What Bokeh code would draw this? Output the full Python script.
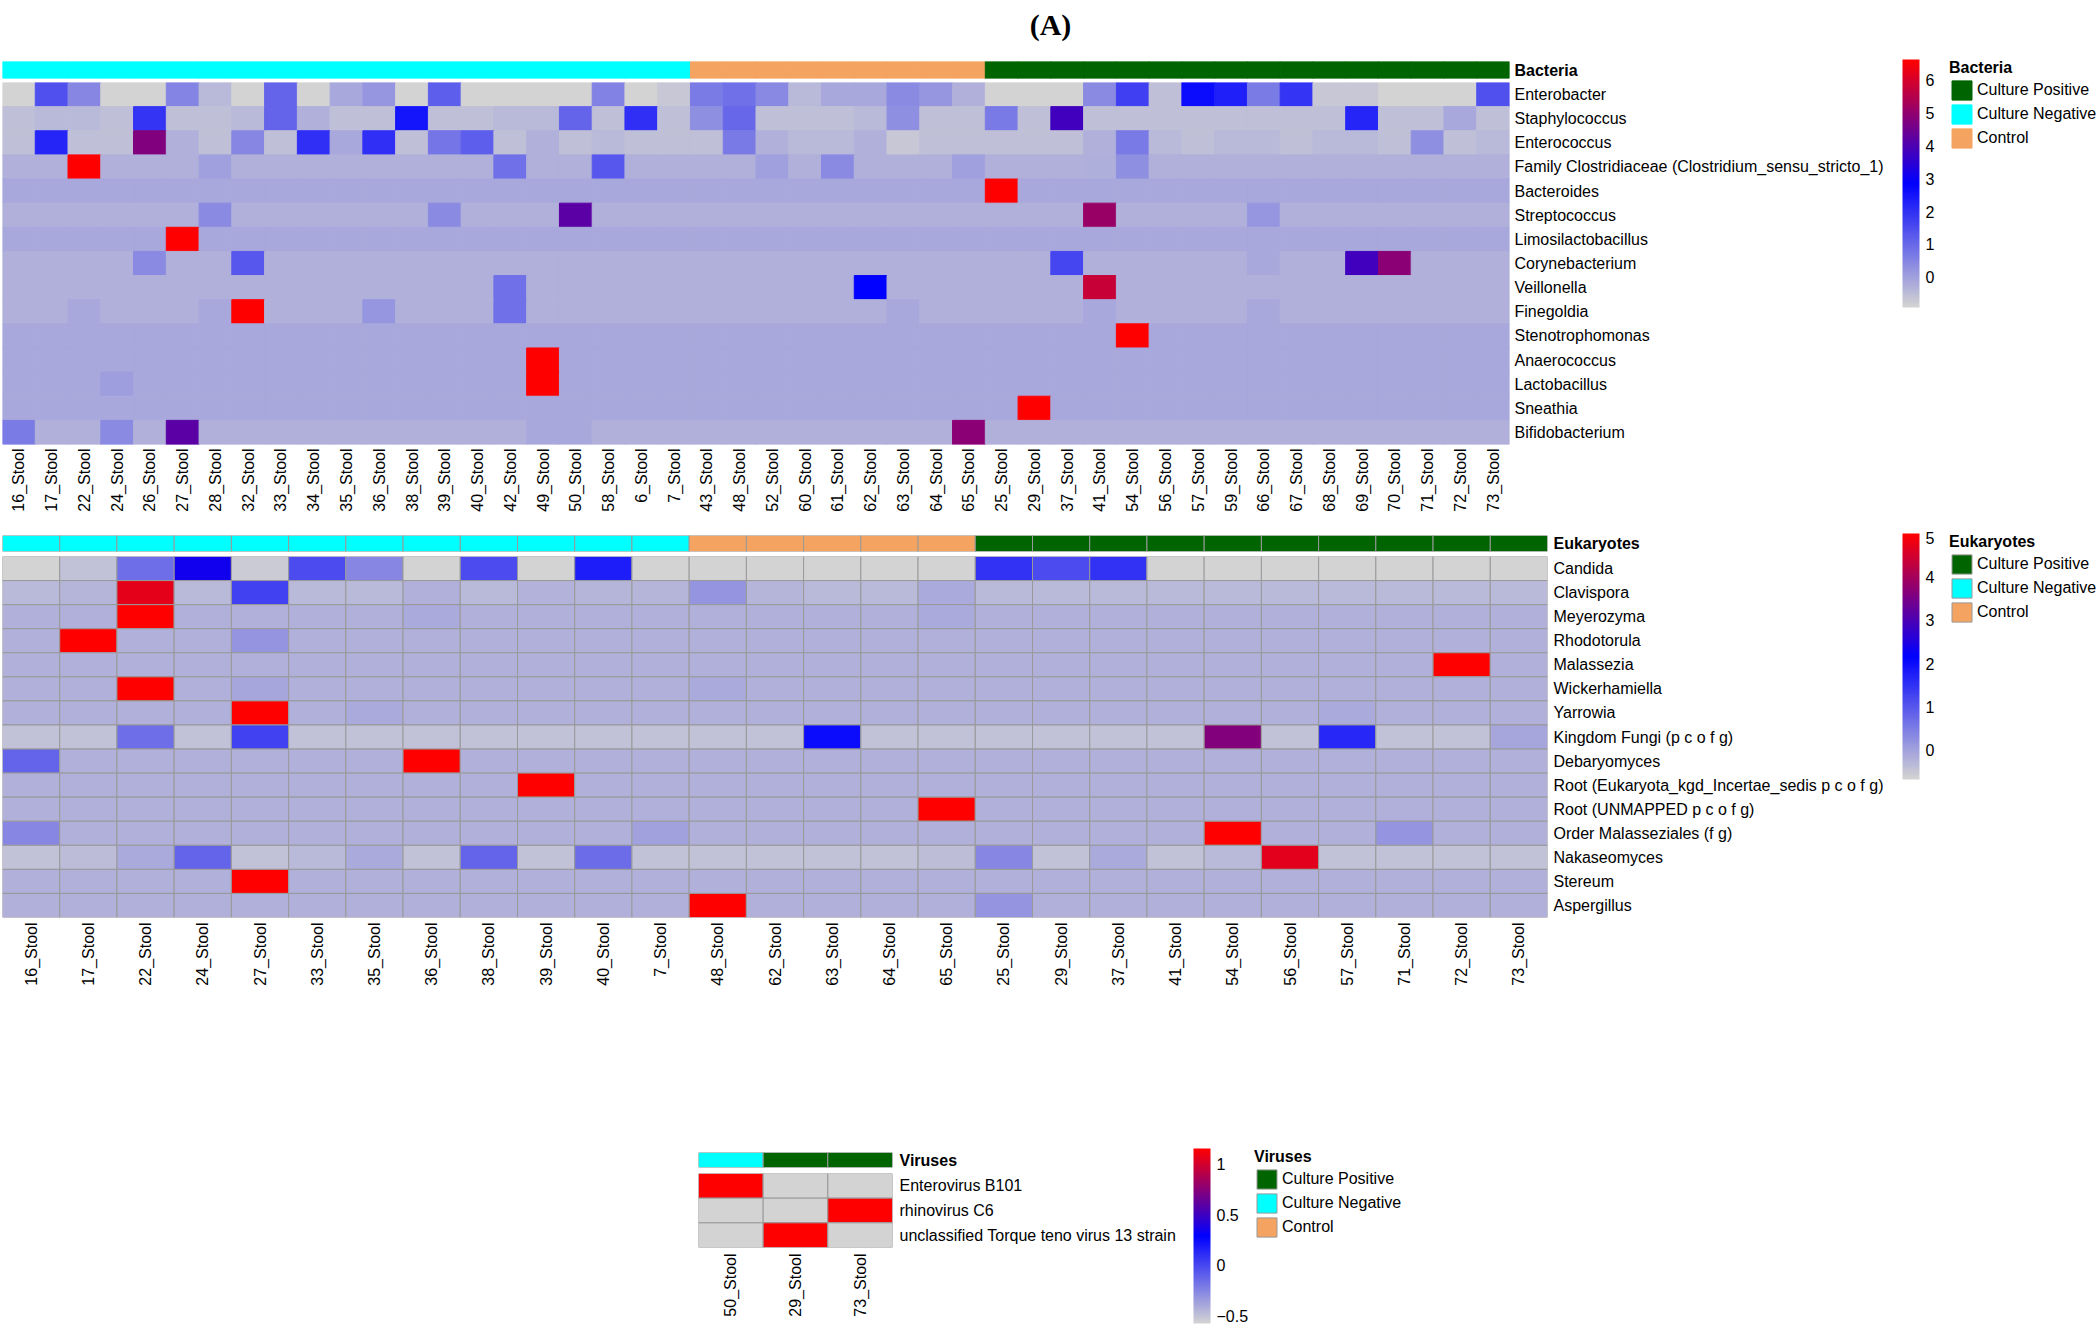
import numpy as np
from bokeh.plotting import figure
from bokeh.models import (FactorRange, Range1d, ColumnDataSource, LinearColorMapper, ColorBar,
                          FixedTicker, Legend, LegendItem, Spacer)
from bokeh.layouts import column, row
from bokeh.embed import file_html
from bokeh.resources import INLINE
from bokeh.core.validation import silence
from bokeh.core.validation.warnings import MISSING_RENDERERS

silence(MISSING_RENDERERS, True)

FONT = "Liberation Sans"
GROUP_NAMES = ["Culture Positive", "Culture Negative", "Control"]
GROUP_COLORS = {"Culture Positive": "#006400", "Culture Negative": "#00FFFF", "Control": "#F4A460"}

# ---------------- Bacteria ----------------
BAC_SAMPLES = ["16_Stool", "17_Stool", "22_Stool", "24_Stool", "26_Stool", "27_Stool", "28_Stool",
               "32_Stool", "33_Stool", "34_Stool", "35_Stool", "36_Stool", "38_Stool", "39_Stool",
               "40_Stool", "42_Stool", "49_Stool", "50_Stool", "58_Stool", "6_Stool", "7_Stool",
               "43_Stool", "48_Stool", "52_Stool", "60_Stool", "61_Stool", "62_Stool", "63_Stool",
               "64_Stool", "65_Stool",
               "25_Stool", "29_Stool", "37_Stool", "41_Stool", "54_Stool", "56_Stool", "57_Stool",
               "59_Stool", "66_Stool", "67_Stool", "68_Stool", "69_Stool", "70_Stool", "71_Stool",
               "72_Stool", "73_Stool"]
BAC_GROUPS = ["Culture Negative", "Culture Negative", "Culture Negative", "Culture Negative",
              "Culture Negative", "Culture Negative", "Culture Negative", "Culture Negative",
              "Culture Negative", "Culture Negative", "Culture Negative", "Culture Negative",
              "Culture Negative", "Culture Negative", "Culture Negative", "Culture Negative",
              "Culture Negative", "Culture Negative", "Culture Negative", "Culture Negative",
              "Culture Negative",
              "Control", "Control", "Control", "Control", "Control", "Control", "Control",
              "Control", "Control",
              "Culture Positive", "Culture Positive", "Culture Positive", "Culture Positive",
              "Culture Positive", "Culture Positive", "Culture Positive", "Culture Positive",
              "Culture Positive", "Culture Positive", "Culture Positive", "Culture Positive",
              "Culture Positive", "Culture Positive", "Culture Positive", "Culture Positive"]
BAC_TAXA = ["Enterobacter", "Staphylococcus", "Enterococcus",
            "Family Clostridiaceae (Clostridium_sensu_stricto_1)", "Bacteroides", "Streptococcus",
            "Limosilactobacillus", "Corynebacterium", "Veillonella", "Finegoldia",
            "Stenotrophomonas", "Anaerococcus", "Lactobacillus", "Sneathia", "Bifidobacterium"]

BAC_ENTEROBACTER = [-0.92, 1.43, 0.44, -0.92, -0.92, 0.5, -0.42, -0.92, 1.08, -0.92, -0.15, 0.19, -0.92, 1.2, -0.92, -0.92, -0.92, -0.92, 0.55, -0.92, -0.7,
                    0.67, 0.87, 0.41, -0.42, -0.15, -0.15, 0.38, 0.19, -0.3,
                    -0.92, -0.92, -0.92, 0.38, 1.72, -0.55, 2.65, 2.3, 0.65, 1.94, -0.7, -0.7, -0.92, -0.92, -0.92, 1.43]
BAC_STAPHYLOCOCCUS = [-0.55, -0.42, -0.42, -0.55, 1.94, -0.55, -0.55, -0.42, 1.08, -0.3, -0.55, -0.55, 2.5, -0.55, -0.55, -0.42, -0.42, 1.08, -0.55, 2.0, -0.55,
                      0.3, 1.0, -0.55, -0.55, -0.55, -0.42, 0.3, -0.55, -0.55,
                      0.7, -0.55, 3.8, -0.55, -0.55, -0.55, -0.55, -0.55, -0.55, -0.55, -0.55, 2.2, -0.55, -0.55, -0.15, -0.55]
BAC_ENTEROCOCCUS = [-0.55, 2.2, -0.55, -0.55, 4.75, -0.3, -0.55, 0.44, -0.55, 2.0, -0.15, 2.0, -0.55, 0.78, 1.2, -0.55, -0.3, -0.55, -0.42, -0.55, -0.55,
                    -0.55, 0.7, -0.3, -0.42, -0.42, -0.3, -0.7, -0.55, -0.55,
                    -0.55, -0.55, -0.55, -0.3, 0.7, -0.42, -0.55, -0.42, -0.42, -0.55, -0.42, -0.42, -0.55, 0.3, -0.55, -0.42]
BAC_CLOSTRIDIACEAE = [-0.3, -0.3, 6.63, -0.3, -0.3, -0.3, 0.0, -0.3, -0.3, -0.3, -0.3, -0.3, -0.3, -0.3, -0.3, 0.87, -0.3, -0.3, 1.3, -0.3, -0.3,
                      -0.3, -0.3, 0.0, -0.3, 0.38, -0.3, -0.3, -0.3, 0.0,
                      -0.3, -0.3, -0.3, -0.25, 0.3, -0.3, -0.3, -0.3, -0.3, -0.3, -0.3, -0.3, -0.3, -0.3, -0.3, -0.3]
BAC_BACTEROIDES = [-0.15, -0.15, -0.15, -0.15, -0.15, -0.15, -0.15, -0.15, -0.15, -0.15, -0.15, -0.15, -0.15, -0.15, -0.15, -0.15, -0.15, -0.15, -0.15, -0.15, -0.15,
                   -0.15, -0.15, -0.15, -0.15, -0.15, -0.15, -0.15, -0.15, -0.15,
                   6.63, -0.15, -0.15, -0.15, -0.15, -0.15, -0.15, -0.15, -0.15, -0.15, -0.15, -0.15, -0.15, -0.15, -0.15, -0.15]
BAC_STREPTOCOCCUS = [-0.3, -0.3, -0.3, -0.3, -0.3, -0.3, 0.38, -0.3, -0.3, -0.3, -0.3, -0.3, -0.3, 0.38, -0.3, -0.3, -0.3, 4.2, -0.3, -0.3, -0.3,
                     -0.3, -0.3, -0.3, -0.3, -0.3, -0.3, -0.3, -0.3, -0.3,
                     -0.3, -0.3, -0.3, 5.1, -0.3, -0.3, -0.3, -0.3, 0.2, -0.3, -0.3, -0.3, -0.3, -0.3, -0.3, -0.3]
BAC_LIMOSILACTOBACILLUS = [-0.15, -0.15, -0.15, -0.15, -0.15, 6.63, -0.15, -0.15, -0.15, -0.15, -0.15, -0.15, -0.15, -0.15, -0.15, -0.15, -0.15, -0.15, -0.15, -0.15, -0.15,
                           -0.15, -0.15, -0.15, -0.15, -0.15, -0.15, -0.15, -0.15, -0.15,
                           -0.15, -0.15, -0.15, -0.15, -0.15, -0.15, -0.15, -0.15, -0.15, -0.15, -0.15, -0.15, -0.15, -0.15, -0.15, -0.15]
BAC_CORYNEBACTERIUM = [-0.3, -0.3, -0.3, -0.3, 0.38, -0.3, -0.3, 1.3, -0.3, -0.3, -0.3, -0.3, -0.3, -0.3, -0.3, -0.3, -0.3, -0.3, -0.3, -0.3, -0.3,
                       -0.3, -0.3, -0.3, -0.3, -0.3, -0.3, -0.3, -0.3, -0.3,
                       -0.3, -0.3, 1.6, -0.3, -0.3, -0.3, -0.3, -0.3, -0.15, -0.3, -0.3, 3.8, 4.9, -0.3, -0.3, -0.3]
BAC_VEILLONELLA = [-0.3, -0.3, -0.3, -0.3, -0.3, -0.3, -0.3, -0.3, -0.3, -0.3, -0.3, -0.3, -0.3, -0.3, -0.3, 0.87, -0.3, -0.3, -0.3, -0.3, -0.3,
                   -0.3, -0.3, -0.3, -0.3, -0.3, 2.85, -0.3, -0.3, -0.3,
                   -0.3, -0.3, -0.3, 5.8, -0.3, -0.3, -0.3, -0.3, -0.3, -0.3, -0.3, -0.3, -0.3, -0.3, -0.3, -0.3]
BAC_FINEGOLDIA = [-0.3, -0.3, -0.15, -0.3, -0.3, -0.3, -0.15, 6.63, -0.3, -0.3, -0.3, 0.2, -0.3, -0.3, -0.3, 0.87, -0.3, -0.3, -0.3, -0.3, -0.3,
                  -0.3, -0.3, -0.3, -0.3, -0.3, -0.3, -0.15, -0.3, -0.3,
                  -0.3, -0.3, -0.3, -0.15, -0.3, -0.3, -0.3, -0.3, -0.15, -0.3, -0.3, -0.3, -0.3, -0.3, -0.3, -0.3]
BAC_STENOTROPHOMONAS = [-0.15, -0.15, -0.15, -0.15, -0.15, -0.15, -0.15, -0.15, -0.15, -0.15, -0.15, -0.15, -0.15, -0.15, -0.15, -0.15, -0.15, -0.15, -0.15, -0.15, -0.15,
                        -0.15, -0.15, -0.15, -0.15, -0.15, -0.15, -0.15, -0.15, -0.15,
                        -0.15, -0.15, -0.15, -0.15, 6.63, -0.15, -0.15, -0.15, -0.15, -0.15, -0.15, -0.15, -0.15, -0.15, -0.15, -0.15]
BAC_ANAEROCOCCUS = [-0.15, -0.15, -0.15, -0.15, -0.15, -0.15, -0.15, -0.15, -0.15, -0.15, -0.15, -0.15, -0.15, -0.15, -0.15, -0.15, 6.63, -0.15, -0.15, -0.15, -0.15,
                    -0.15, -0.15, -0.15, -0.15, -0.15, -0.15, -0.15, -0.15, -0.15,
                    -0.15, -0.15, -0.15, -0.15, -0.15, -0.15, -0.15, -0.15, -0.15, -0.15, -0.15, -0.15, -0.15, -0.15, -0.15, -0.15]
BAC_LACTOBACILLUS = [-0.15, -0.15, -0.15, 0.05, -0.15, -0.15, -0.15, -0.15, -0.15, -0.15, -0.15, -0.15, -0.15, -0.15, -0.15, -0.15, 6.63, -0.15, -0.15, -0.15, -0.15,
                     -0.15, -0.15, -0.15, -0.15, -0.15, -0.15, -0.15, -0.15, -0.15,
                     -0.15, -0.15, -0.15, -0.15, -0.15, -0.15, -0.15, -0.15, -0.15, -0.15, -0.15, -0.15, -0.15, -0.15, -0.15, -0.15]
BAC_SNEATHIA = [-0.15, -0.15, -0.15, -0.15, -0.15, -0.15, -0.15, -0.15, -0.15, -0.15, -0.15, -0.15, -0.15, -0.15, -0.15, -0.15, -0.15, -0.15, -0.15, -0.15, -0.15,
                -0.15, -0.15, -0.15, -0.15, -0.15, -0.15, -0.15, -0.15, -0.15,
                -0.15, 6.63, -0.15, -0.15, -0.15, -0.15, -0.15, -0.15, -0.15, -0.15, -0.15, -0.15, -0.15, -0.15, -0.15, -0.15]
BAC_BIFIDOBACTERIUM = [0.65, -0.3, -0.3, 0.38, -0.3, 4.2, -0.3, -0.3, -0.3, -0.3, -0.3, -0.3, -0.3, -0.3, -0.3, -0.3, -0.15, -0.15, -0.3, -0.3, -0.3,
                       -0.3, -0.3, -0.3, -0.3, -0.3, -0.3, -0.3, -0.3, 4.9,
                       -0.3, -0.3, -0.3, -0.3, -0.3, -0.3, -0.3, -0.3, -0.3, -0.3, -0.3, -0.3, -0.3, -0.3, -0.3, -0.3]
BAC_ROWS = [BAC_ENTEROBACTER, BAC_STAPHYLOCOCCUS, BAC_ENTEROCOCCUS, BAC_CLOSTRIDIACEAE, BAC_BACTEROIDES,
            BAC_STREPTOCOCCUS, BAC_LIMOSILACTOBACILLUS, BAC_CORYNEBACTERIUM, BAC_VEILLONELLA, BAC_FINEGOLDIA,
            BAC_STENOTROPHOMONAS, BAC_ANAEROCOCCUS, BAC_LACTOBACILLUS, BAC_SNEATHIA, BAC_BIFIDOBACTERIUM]
BAC_TICKS = [0, 1, 2, 3, 4, 5, 6]

# ---------------- Eukaryotes ----------------
EUK_SAMPLES = ["16_Stool", "17_Stool", "22_Stool", "24_Stool", "27_Stool", "33_Stool", "35_Stool",
               "36_Stool", "38_Stool", "39_Stool", "40_Stool", "7_Stool",
               "48_Stool", "62_Stool", "63_Stool", "64_Stool", "65_Stool",
               "25_Stool", "29_Stool", "37_Stool", "41_Stool", "54_Stool", "56_Stool", "57_Stool",
               "71_Stool", "72_Stool", "73_Stool"]
EUK_GROUPS = ["Culture Negative", "Culture Negative", "Culture Negative", "Culture Negative",
              "Culture Negative", "Culture Negative", "Culture Negative", "Culture Negative",
              "Culture Negative", "Culture Negative", "Culture Negative", "Culture Negative",
              "Control", "Control", "Control", "Control", "Control",
              "Culture Positive", "Culture Positive", "Culture Positive", "Culture Positive",
              "Culture Positive", "Culture Positive", "Culture Positive", "Culture Positive",
              "Culture Positive", "Culture Positive"]
EUK_TAXA = ["Candida", "Clavispora", "Meyerozyma", "Rhodotorula", "Malassezia", "Wickerhamiella",
            "Yarrowia", "Kingdom Fungi (p c o f g)", "Debaryomyces",
            "Root (Eukaryota_kgd_Incertae_sedis p c o f g)", "Root (UNMAPPED p c o f g)",
            "Order Malasseziales (f g)", "Nakaseomyces", "Stereum", "Aspergillus"]
EUK_CANDIDA = [-0.67, -0.41, 0.7, 2.35, -0.55, 1.16, 0.37, -0.67, 1.16, -0.67, 1.78, -0.67,
               -0.67, -0.67, -0.67, -0.67, -0.67,
               1.48, 1.16, 1.5, -0.67, -0.67, -0.67, -0.67, -0.67, -0.67, -0.67]
EUK_CLAVISPORA = [-0.3, -0.27, 4.7, -0.3, 1.3, -0.3, -0.3, -0.2, -0.3, -0.22, -0.27, -0.27,
                  0.19, -0.25, -0.3, -0.3, -0.1,
                  -0.3, -0.3, -0.3, -0.3, -0.3, -0.3, -0.3, -0.3, -0.3, -0.3]
EUK_MEYEROZYMA = [-0.19, -0.19, 5.0, -0.19, -0.19, -0.19, -0.19, -0.1, -0.19, -0.19, -0.19, -0.19,
                  -0.19, -0.19, -0.19, -0.19, -0.1,
                  -0.19, -0.19, -0.19, -0.19, -0.19, -0.19, -0.19, -0.19, -0.19, -0.19]
EUK_RHODOTORULA = [-0.19, 5.0, -0.19, -0.19, 0.19, -0.19, -0.19, -0.19, -0.19, -0.19, -0.19, -0.19,
                   -0.19, -0.19, -0.19, -0.19, -0.19,
                   -0.19, -0.19, -0.19, -0.19, -0.19, -0.19, -0.19, -0.19, -0.19, -0.19]
EUK_MALASSEZIA = [-0.19, -0.19, -0.19, -0.19, -0.19, -0.19, -0.19, -0.19, -0.19, -0.19, -0.19, -0.19,
                  -0.19, -0.19, -0.19, -0.19, -0.19,
                  -0.19, -0.19, -0.19, -0.19, -0.19, -0.19, -0.19, -0.19, 5.0, -0.19]
EUK_WICKERHAMIELLA = [-0.19, -0.19, 5.0, -0.19, -0.05, -0.19, -0.19, -0.19, -0.19, -0.19, -0.19, -0.19,
                      -0.1, -0.19, -0.19, -0.19, -0.19,
                      -0.19, -0.19, -0.19, -0.19, -0.19, -0.19, -0.19, -0.19, -0.19, -0.19]
EUK_YARROWIA = [-0.19, -0.19, -0.19, -0.19, 5.0, -0.19, -0.1, -0.19, -0.19, -0.19, -0.19, -0.19,
                -0.19, -0.19, -0.19, -0.19, -0.19,
                -0.19, -0.19, -0.19, -0.19, -0.19, -0.19, -0.1, -0.19, -0.19, -0.19]
EUK_KINGDOM_FUNGI = [-0.41, -0.41, 0.7, -0.41, 1.3, -0.41, -0.41, -0.41, -0.41, -0.41, -0.41, -0.41,
                     -0.41, -0.41, 2.0, -0.41, -0.41,
                     -0.41, -0.41, -0.41, -0.41, 3.62, -0.41, 1.65, -0.41, -0.41, -0.05]
EUK_DEBARYOMYCES = [0.83, -0.19, -0.19, -0.19, -0.19, -0.19, -0.19, 5.0, -0.19, -0.19, -0.19, -0.19,
                    -0.19, -0.19, -0.19, -0.19, -0.19,
                    -0.19, -0.19, -0.19, -0.19, -0.19, -0.19, -0.19, -0.19, -0.19, -0.19]
EUK_ROOT_INCERTAE = [-0.19, -0.19, -0.19, -0.19, -0.19, -0.19, -0.19, -0.19, -0.19, 5.0, -0.19, -0.19,
                     -0.19, -0.19, -0.19, -0.19, -0.19,
                     -0.19, -0.19, -0.19, -0.19, -0.19, -0.19, -0.19, -0.19, -0.19, -0.19]
EUK_ROOT_UNMAPPED = [-0.19, -0.19, -0.19, -0.19, -0.19, -0.19, -0.19, -0.19, -0.19, -0.19, -0.19, -0.19,
                     -0.19, -0.19, -0.19, -0.19, 5.0,
                     -0.19, -0.19, -0.19, -0.19, -0.19, -0.19, -0.19, -0.19, -0.19, -0.19]
EUK_MALASSEZIALES = [0.35, -0.19, -0.19, -0.19, -0.19, -0.19, -0.19, -0.19, -0.19, -0.19, -0.19, 0.0,
                     -0.19, -0.19, -0.19, -0.19, -0.19,
                     -0.19, -0.19, -0.19, -0.19, 5.0, -0.19, -0.19, 0.19, -0.19, -0.19]
EUK_NAKASEOMYCES = [-0.41, -0.35, -0.1, 0.83, -0.41, -0.3, -0.1, -0.41, 0.83, -0.41, 0.72, -0.41,
                    -0.41, -0.41, -0.41, -0.41, -0.38,
                    0.35, -0.41, -0.1, -0.41, -0.3, 4.67, -0.41, -0.41, -0.41, -0.41]
EUK_STEREUM = [-0.19, -0.19, -0.19, -0.19, 5.0, -0.19, -0.19, -0.19, -0.19, -0.19, -0.19, -0.19,
               -0.19, -0.19, -0.19, -0.19, -0.19,
               -0.19, -0.19, -0.19, -0.19, -0.19, -0.19, -0.19, -0.19, -0.19, -0.19]
EUK_ASPERGILLUS = [-0.19, -0.19, -0.19, -0.19, -0.19, -0.19, -0.19, -0.19, -0.19, -0.19, -0.19, -0.19,
                   5.0, -0.19, -0.19, -0.19, -0.19,
                   0.19, -0.19, -0.19, -0.19, -0.19, -0.19, -0.19, -0.19, -0.19, -0.19]
EUK_ROWS = [EUK_CANDIDA, EUK_CLAVISPORA, EUK_MEYEROZYMA, EUK_RHODOTORULA, EUK_MALASSEZIA,
            EUK_WICKERHAMIELLA, EUK_YARROWIA, EUK_KINGDOM_FUNGI, EUK_DEBARYOMYCES, EUK_ROOT_INCERTAE,
            EUK_ROOT_UNMAPPED, EUK_MALASSEZIALES, EUK_NAKASEOMYCES, EUK_STEREUM, EUK_ASPERGILLUS]
EUK_TICKS = [0, 1, 2, 3, 4, 5]

# ---------------- Viruses ----------------
VIR_SAMPLES = ["50_Stool", "29_Stool", "73_Stool"]
VIR_GROUPS = ["Culture Negative", "Culture Positive", "Culture Positive"]
VIR_TAXA = ["Enterovirus B101", "rhinovirus C6", "unclassified Torque teno virus 13 strain"]
VIR_ENTEROVIRUS = [1.155, -0.577, -0.577]
VIR_RHINOVIRUS = [-0.577, -0.577, 1.155]
VIR_TORQUE_TENO = [-0.577, 1.155, -0.577]
VIR_ROWS = [VIR_ENTEROVIRUS, VIR_RHINOVIRUS, VIR_TORQUE_TENO]
VIR_TICKS = [-0.5, 0, 0.5, 1]


def ramp(n=256):
    stops = [(211, 211, 211), (0, 0, 255), (255, 0, 0)]
    out = []
    for i in range(n):
        t = i / (n - 1) * 2
        k = min(int(t), 1)
        f = t - k
        a, b = stops[k], stops[k + 1]
        c = tuple(int(round(a[j] + (b[j] - a[j]) * f)) for j in range(3))
        out.append("#%02x%02x%02x" % c)
    return out


PALETTE = ramp()


def style_axis(ax, standoff):
    ax.axis_line_color = None
    ax.major_tick_line_color = None
    ax.minor_tick_line_color = None
    ax.major_tick_out = 0
    ax.major_tick_in = 0
    ax.minor_tick_out = 0
    ax.minor_tick_in = 0
    ax.major_label_text_font = FONT
    ax.major_label_text_font_size = "16px"
    ax.major_label_text_color = "#000000"
    ax.major_label_standoff = standoff


def blank_fig(width, height, top, left):
    f = figure(width=width, height=height, toolbar_location=None, output_backend="svg",
               x_axis_type=None, y_axis_type=None, x_range=Range1d(0, 1), y_range=Range1d(0, 1),
               min_border_left=left, min_border_top=top, min_border_right=0, min_border_bottom=0,
               outline_line_color=None)
    f.xgrid.visible = False
    f.ygrid.visible = False
    return f


def heat_panel(name, samples, groups, taxa, rows, frame_w, frame_h, right,
               annot_top, annot_h, annot_gap, heat_bottom, border, label_standoff,
               xlabel_standoff, ticks, cb_width, cb_top, cb_height, lg_width, lg_top,
               overrides=None):
    xr = FactorRange(*samples)
    # annotation bar
    ann = figure(x_range=xr, y_range=FactorRange(name), frame_width=frame_w, frame_height=annot_h,
                 min_border_left=2, min_border_right=right, min_border_top=annot_top,
                 min_border_bottom=annot_gap, x_axis_location=None, y_axis_location="right",
                 toolbar_location=None, output_backend="svg", outline_line_color=None)
    asrc = ColumnDataSource(dict(x=samples, y=[name] * len(samples),
                                 c=[GROUP_COLORS[g] for g in groups]))
    ann.rect("x", "y", 1, 1, source=asrc, fill_color="c",
             line_color=border if border else "c", line_width=1)
    ann.xgrid.visible = False
    ann.ygrid.visible = False
    style_axis(ann.yaxis[0], label_standoff)
    ann.yaxis[0].major_label_text_font_style = "bold"

    # heatmap
    heat = figure(x_range=xr, y_range=FactorRange(*reversed(taxa)), frame_width=frame_w,
                  frame_height=frame_h, min_border_left=2, min_border_right=right,
                  min_border_top=0, min_border_bottom=heat_bottom, y_axis_location="right",
                  toolbar_location=None, output_backend="svg", outline_line_color=None)
    xs, ys, vs = [], [], []
    for t, r in zip(taxa, rows):
        for s, v in zip(samples, r):
            xs.append(s)
            ys.append(t)
            vs.append(v)
    mapper = LinearColorMapper(palette=PALETTE, low=min(vs), high=max(vs))
    src = ColumnDataSource(dict(x=xs, y=ys, v=vs))
    heat.rect("x", "y", 1, 1, source=src, fill_color={"field": "v", "transform": mapper},
              line_color=border if border else {"field": "v", "transform": mapper}, line_width=1)
    heat.xgrid.visible = False
    heat.ygrid.visible = False
    style_axis(heat.yaxis[0], label_standoff)
    style_axis(heat.xaxis[0], xlabel_standoff)
    heat.xaxis[0].major_label_orientation = np.pi / 2

    # colour bar
    total_h = annot_top + annot_h + annot_gap + frame_h + heat_bottom
    cbf = blank_fig(cb_width, total_h, cb_top, 2)
    cb = ColorBar(color_mapper=mapper, width=17, height=cb_height, location="top_left",
                  ticker=FixedTicker(ticks=ticks), major_label_text_font=FONT,
                  major_label_text_font_size="16px", major_label_text_color="#000000",
                  major_tick_line_color=None, minor_tick_line_color=None,
                  bar_line_color=None, border_line_color=None, background_fill_alpha=0,
                  padding=0, margin=0, label_standoff=6,
                  major_label_overrides=overrides or {})
    cbf.add_layout(cb)

    # group legend
    lgf = blank_fig(lg_width, total_h, lg_top, 0)
    items = []
    for g in GROUP_NAMES:
        r = lgf.rect(x=[-5], y=[-5], width=0.01, height=0.01, fill_color=GROUP_COLORS[g],
                     line_color=border if border else GROUP_COLORS[g], line_width=1)
        items.append(LegendItem(label=g, renderers=[r]))
    lg = Legend(items=items, location="top_left", title=name, title_text_font=FONT,
                title_text_font_size="16px", title_text_font_style="bold",
                title_text_color="#000000", title_standoff=1,
                label_text_font=FONT, label_text_font_size="16px", label_text_color="#000000",
                glyph_width=25, glyph_height=24, label_height=24, label_standoff=3,
                spacing=0, padding=0, margin=0, border_line_color=None,
                background_fill_alpha=0)
    lgf.add_layout(lg)
    return row(column(ann, heat, spacing=0), cbf, lgf, spacing=0)


title_fig = figure(width=2100, height=45, title="(A)", toolbar_location=None,
                   output_backend="svg", x_axis_type=None, y_axis_type=None,
                   min_border=0, outline_line_color=None)
title_fig.title.align = "center"
title_fig.title.text_font = "Liberation Serif"
title_fig.title.text_font_size = "30px"
title_fig.title.text_font_style = "bold"
title_fig.title.text_color = "#000000"

bac = heat_panel("Bacteria", BAC_SAMPLES, BAC_GROUPS, BAC_TAXA, BAC_ROWS,
                 frame_w=1507, frame_h=362, right=391,
                 annot_top=16, annot_h=17, annot_gap=4, heat_bottom=87, border=None,
                 label_standoff=5, xlabel_standoff=4, ticks=BAC_TICKS,
                 cb_width=49, cb_top=14, cb_height=248, lg_width=151, lg_top=12)
euk = heat_panel("Eukaryotes", EUK_SAMPLES, EUK_GROUPS, EUK_TAXA, EUK_ROWS,
                 frame_w=1545, frame_h=361, right=353,
                 annot_top=4, annot_h=16, annot_gap=5, heat_bottom=183, border="#999999",
                 label_standoff=6, xlabel_standoff=5, ticks=EUK_TICKS,
                 cb_width=49, cb_top=2, cb_height=246, lg_width=151, lg_top=0)
vir = heat_panel("Viruses", VIR_SAMPLES, VIR_GROUPS, VIR_TAXA, VIR_ROWS,
                 frame_w=194, frame_h=74, right=299,
                 annot_top=52, annot_h=15, annot_gap=6, heat_bottom=81, border="#999999",
                 label_standoff=7, xlabel_standoff=6, ticks=VIR_TICKS,
                 cb_width=63, cb_top=48, cb_height=175, lg_width=250, lg_top=47,
                 overrides={-0.5: "\u22120.5"})
vir_row = row(Spacer(width=696, height=228), vir, spacing=0)

layout = column(title_fig, bac, euk, vir_row, spacing=0)
open("out.html", "w").write(file_html(layout, INLINE, title="Heatmaps"))
